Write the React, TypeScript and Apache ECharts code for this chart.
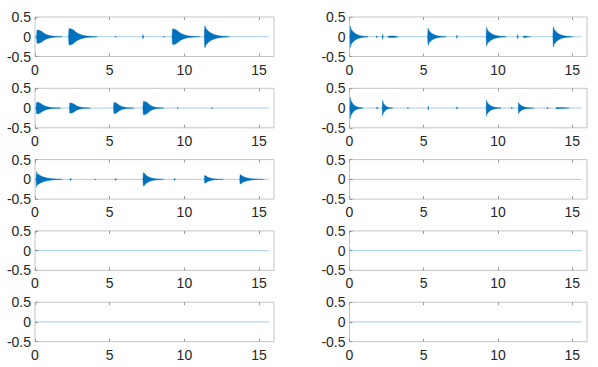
import React, { useEffect, useRef } from 'react';
import * as echarts from 'echarts';

// Tick labels
const xTickLabels = [0, 5, 10, 15];
const yTickLabels = [-0.5, 0, 0.5];
const xRange = [0, 16];
const yRange = [-0.5, 0.5];
// Recorded signal extent (seconds) -> flat baseline
const signalSpan = [0, 15.65];

// Each burst: [onset (s), peak amplitude, hold (s), end (s)]
const burstsL1 = [
  [0.1, 0.17, 0.35, 1.8],
  [2.24, 0.21, 0.35, 4.14],
  [5.35, 0.015, 0, 5.45],
  [7.2, 0.06, 0, 7.3],
  [8.6, 0.012, 0, 8.7],
  [9.17, 0.2, 0.35, 11.0],
  [11.33, 0.28, 0.08, 13.0],
];
const burstsR1 = [
  [0.03, 0.28, 0.03, 1.25],
  [1.8, 0.03, 0, 1.9],
  [2.2, 0.07, 0, 2.3],
  [2.6, 0.02, 0.5, 3.3],
  [5.26, 0.22, 0.05, 6.5],
  [7.2, 0.04, 0, 7.3],
  [9.2, 0.24, 0.05, 10.55],
  [11.3, 0.06, 0, 11.4],
  [11.7, 0.02, 0.2, 12.2],
  [13.7, 0.26, 0.05, 15.0],
];
const burstsL2 = [
  [0.07, 0.15, 0.3, 1.7],
  [2.3, 0.13, 0.3, 3.7],
  [5.25, 0.14, 0.25, 6.6],
  [7.22, 0.17, 0.3, 8.6],
  [9.5, 0.012, 0, 9.6],
  [11.8, 0.012, 0, 11.9],
];
const burstsR2 = [
  [0.03, 0.28, 0.02, 0.9],
  [1.83, 0.03, 0, 1.9],
  [2.2, 0.2, 0.03, 2.9],
  [3.9, 0.015, 0, 4.0],
  [5.28, 0.05, 0, 5.35],
  [7.2, 0.03, 0, 7.3],
  [9.2, 0.21, 0.03, 10.2],
  [10.9, 0.02, 0, 11.0],
  [11.36, 0.14, 0.05, 12.4],
  [13.3, 0.02, 0, 13.4],
  [13.9, 0.015, 0.5, 14.8],
];
const burstsL3 = [
  [0.07, 0.21, 0.02, 1.8],
  [2.35, 0.03, 0, 2.45],
  [4.0, 0.01, 0, 4.1],
  [5.37, 0.03, 0, 5.45],
  [7.22, 0.17, 0.12, 8.6],
  [9.32, 0.03, 0, 9.4],
  [11.33, 0.1, 0.12, 12.6],
  [13.7, 0.12, 0.12, 15.3],
];
const burstsR3: number[][] = [];
const burstsL4: number[][] = [];
const burstsR4: number[][] = [];
const burstsL5: number[][] = [];
const burstsR5: number[][] = [];

const panelBursts = [
  burstsL1, burstsR1,
  burstsL2, burstsR2,
  burstsL3, burstsR3,
  burstsL4, burstsR4,
  burstsL5, burstsR5,
];

const BLUE = '#0072BD';
const TEXT = '#262626';
const BOX = '#c4c4c4';
const TICK = '#9a9a9a';

function envelope(t: number, t0: number, peak: number, hold: number, end: number) {
  const attack = 0.03;
  const dt = t - t0;
  if (dt < 0) return 0;
  if (dt < attack) return peak * (dt / attack);
  const h = dt - attack;
  if (h <= hold) {
    const q = hold > 0 ? h / hold : 1;
    return peak * (1 - 0.25 * q * q);
  }
  const start = hold > 0 ? 0.75 * peak : peak;
  const span = Math.max(end - t0 - attack - hold, 0.01);
  const u = (h - hold) / span;
  return start * Math.exp(-3.6 * u);
}

function renderBurst(params: any, api: any) {
  const t0 = api.value(0);
  const peak = api.value(1);
  const hold = api.value(2);
  const end = api.value(3);
  const n = 90;
  const top: number[][] = [];
  const bottom: number[][] = [];
  for (let i = 0; i <= n; i++) {
    const t = t0 + ((end - t0) * i) / n;
    const a = envelope(t, t0, peak, hold, end);
    top.push(api.coord([t, a]));
    bottom.push(api.coord([t, -a]));
  }
  const points = top.concat(bottom.reverse());
  return {
    type: 'polygon',
    shape: { points },
    style: { fill: BLUE, stroke: BLUE, lineWidth: 0.4 },
  };
}

export default function App() {
  const ref = useRef<HTMLDivElement>(null);
  useEffect(() => {
    if (!ref.current) return;
    const chart = echarts.init(ref.current, undefined, { renderer: 'svg' });
    const colLeft = [35, 349.5];
    const colWidth = [239, 237.5];
    const rowTop = [17, 88.3, 159.6, 230.9, 302.2];
    const rowHeight = 39.5;
    const grids: any[] = [];
    const xAxes: any[] = [];
    const topAxes: any[] = [];
    const yAxes: any[] = [];
    const series: any[] = [];
    const labelStyle = {
      fontSize: 14,
      color: TEXT,
      fontFamily: 'Liberation Sans, Arial, Helvetica, sans-serif',
    };
    const tickStyle = {
      show: true,
      inside: true,
      length: 3,
      lineStyle: { color: TICK },
    };
    for (let i = 0; i < 10; i++) {
      const r = Math.floor(i / 2);
      const c = i % 2;
      grids.push({
        left: colLeft[c],
        top: rowTop[r],
        width: colWidth[c],
        height: rowHeight,
        show: true,
        borderColor: BOX,
        borderWidth: 1,
        backgroundColor: 'transparent',
        containLabel: false,
      });
      xAxes.push({
        type: 'value',
        gridIndex: i,
        position: 'bottom',
        min: xRange[0],
        max: xRange[1],
        interval: 5,
        axisLine: { show: false, onZero: false },
        splitLine: { show: false },
        axisTick: { ...tickStyle, customValues: xTickLabels },
        axisLabel: { ...labelStyle, margin: 6, customValues: xTickLabels },
      });
      topAxes.push({
        type: 'value',
        gridIndex: i,
        position: 'top',
        min: xRange[0],
        max: xRange[1],
        interval: 5,
        axisLine: { show: false, onZero: false },
        splitLine: { show: false },
        axisTick: { ...tickStyle, customValues: xTickLabels },
        axisLabel: { show: false },
      });
      yAxes.push({
        type: 'value',
        gridIndex: i,
        position: 'left',
        min: yRange[0],
        max: yRange[1],
        interval: 0.5,
        axisLine: { show: false, onZero: false },
        splitLine: { show: false },
        axisTick: { ...tickStyle, customValues: yTickLabels },
        axisLabel: {
          ...labelStyle,
          margin: 4,
          customValues: yTickLabels,
          formatter: (v: number) => String(v),
        },
      });
      series.push({
        type: 'line',
        xAxisIndex: i,
        yAxisIndex: i,
        data: [
          [signalSpan[0], 0],
          [signalSpan[1], 0],
        ],
        showSymbol: false,
        symbol: 'none',
        lineStyle: { color: BLUE, width: 1, opacity: 0.35 },
        silent: true,
      });
      if (panelBursts[i].length) {
        series.push({
          type: 'custom',
          xAxisIndex: i,
          yAxisIndex: i,
          data: panelBursts[i],
          renderItem: renderBurst,
          silent: true,
        });
      }
    }
    chart.setOption({
      animation: false,
      backgroundColor: '#ffffff',
      grid: grids,
      xAxis: xAxes.concat(topAxes),
      yAxis: yAxes,
      series,
    });
    return () => chart.dispose();
  }, []);
  return (
    <div
      ref={ref}
      style={{ position: 'fixed', left: 0, top: 0, width: 598, height: 367 }}
    />
  );
}
